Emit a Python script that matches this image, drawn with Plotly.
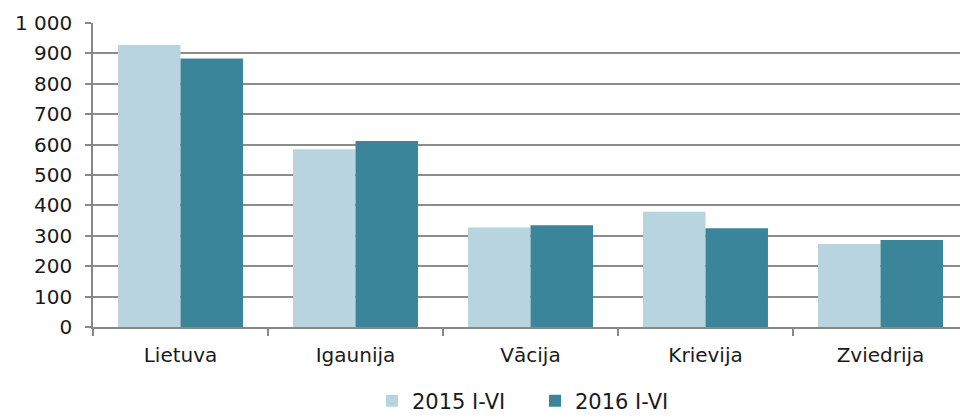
import plotly.graph_objects as go

categories = ["Lietuva", "Igaunija", "Vācija", "Krievija", "Zviedrija"]
series_2015 = [928, 585, 327, 379, 273]
series_2016 = [883, 612, 335, 325, 286]
series_names = ["2015 I-VI", "2016 I-VI"]
y_ticks = [0, 100, 200, 300, 400, 500, 600, 700, 800, 900, 1000]

FONT = "DejaVu Sans, Verdana, sans-serif"
FS = 20

W, H = 960, 419
L, T = 93, 23
PH = 304
B = H - T - PH
plot_w = W - L

fig = go.Figure()
fig.add_trace(go.Bar(x=categories, y=series_2015, name=series_names[0],
                     marker=dict(color="#B7D4DF", line=dict(width=0))))
fig.add_trace(go.Bar(x=categories, y=series_2016, name=series_names[1],
                     marker=dict(color="#3A8599", line=dict(width=0))))

fig.update_layout(
    width=W, height=H,
    margin=dict(l=L, r=0, t=T, b=B, autoexpand=False),
    paper_bgcolor="white", plot_bgcolor="white",
    barmode="group", bargap=0.286, bargroupgap=0,
    separators=", ",
    font=dict(family=FONT, size=FS, color="#1a1a1a"),
    showlegend=True,
    legend=dict(orientation="h", x=(372 - L) / plot_w, xanchor="left",
                y=-74 / PH, yanchor="middle",
                font=dict(family=FONT, size=21, color="#1a1a1a"),
                itemwidth=30, traceorder="normal",
                entrywidth=118, entrywidthmode="pixels"),
    xaxis=dict(range=[-0.5, -0.5 + plot_w / 175], tickson="boundaries",
               ticks="outside", ticklen=7, tickcolor="#888888", tickwidth=1.5,
               showline=True, linecolor="#888888", linewidth=1.5,
               showgrid=False, tickfont=dict(size=FS), fixedrange=True,
               automargin=False, ticklabelstandoff=9),
    yaxis=dict(range=[0, 1000], tickvals=y_ticks, tickformat=",",
               ticks="outside", ticklen=6, tickcolor="#888888", tickwidth=1.5,
               showline=True, linecolor="#888888", linewidth=1.5,
               showgrid=True, gridcolor="#8c8c8c", gridwidth=1.6,
               zeroline=False, tickfont=dict(size=FS), fixedrange=True,
               automargin=False, ticklabelstandoff=9),
)

fig.write_html(
    "out.html",
    config={"displayModeBar": False},
    post_script=(
        "document.body.style.margin='0';"
        "var gd=document.getElementById('{plot_id}');"
        "gd.style.position='fixed';gd.style.top='0';gd.style.left='0';"
    ),
)
